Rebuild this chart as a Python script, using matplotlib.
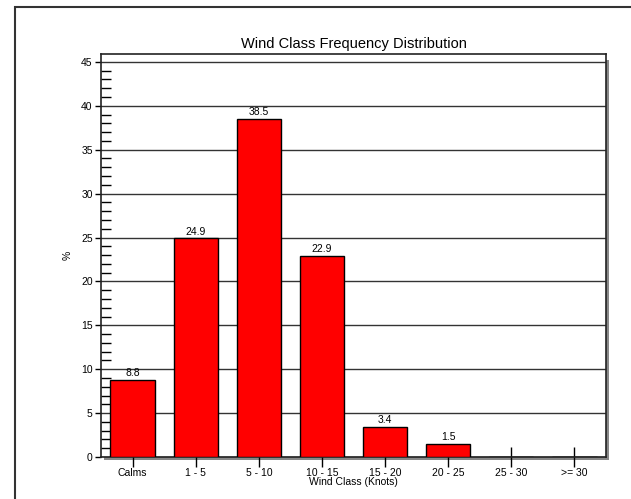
import matplotlib
matplotlib.use("Agg")
import matplotlib.pyplot as plt
from matplotlib.patches import Rectangle
from matplotlib.ticker import MultipleLocator

# Du lieu tan suat theo cap gio
categories = ["Calms", "1 - 5", "5 - 10", "10 - 15", "15 - 20", "20 - 25", "25 - 30", ">= 30"]
freq = [8.8, 24.9, 38.5, 22.9, 3.4, 1.5, 0.0, 0.0]
bar_labels = ["8.8", "24.9", "38.5", "22.9", "3.4", "1.5", "", ""]

W, H = 631, 499
fig = plt.figure(figsize=(W / 100, H / 100), dpi=100)
plt.rcParams["font.family"] = ["Liberation Sans", "DejaVu Sans"]

# Khung ngoai cua hinh
fig.add_artist(Rectangle((15 / W, -0.1), 1.2, 1 - 7 / H + 0.1, transform=fig.transFigure,
                         fill=False, edgecolor="#333333", lw=1.5))

left, right, top, bottom = 101, 606, 54, 457
ax = fig.add_axes([left / W, 1 - bottom / H, (right - left) / W, (bottom - top) / H])

# Bong do o canh phai va canh duoi
fig.add_artist(Rectangle(((right) / W, 1 - (bottom + 3) / H), 3 / W, (bottom - top - 3) / H,
                         transform=fig.transFigure, color="#888888", lw=0, zorder=0))
fig.add_artist(Rectangle(((left + 3) / W, 1 - (bottom + 3) / H), (right - left) / W, 3 / H,
                         transform=fig.transFigure, color="#888888", lw=0, zorder=0))

x = range(len(categories))
ax.bar(x, freq, width=0.7, color="#ff0000", edgecolor="black", lw=1, zorder=3)
for xi, v, lab in zip(x, freq, bar_labels):
    if lab:
        ax.text(xi, v + 0.2, lab, ha="center", va="bottom", fontsize=7.5)

ax.set_xlim(-0.5, 7.5)
ax.set_ylim(0, 45.9)
ax.yaxis.set_major_locator(MultipleLocator(5))
ax.yaxis.set_minor_locator(MultipleLocator(1))
ax.grid(True, axis="y", color="#333333", lw=1, zorder=1)
ax.set_xticks(list(x))
ax.set_xticklabels(categories, fontsize=7.5)
ax.tick_params(axis="x", direction="inout", length=14, width=1, pad=1)
ax.tick_params(axis="y", which="major", direction="out", length=4, width=1, labelsize=7.5, pad=2)
ax.tick_params(axis="y", which="minor", direction="in", length=7, width=1)
for s in ax.spines.values():
    s.set_color("#222222")
    s.set_linewidth(1.2)

ax.set_title("Wind Class Frequency Distribution", fontsize=10.5, pad=4)
ax.set_xlabel("Wind Class (Knots)", fontsize=7.5, labelpad=-1)
ax.set_ylabel("%", fontsize=7.5, labelpad=6)

fig.savefig("out.png", dpi=100)
